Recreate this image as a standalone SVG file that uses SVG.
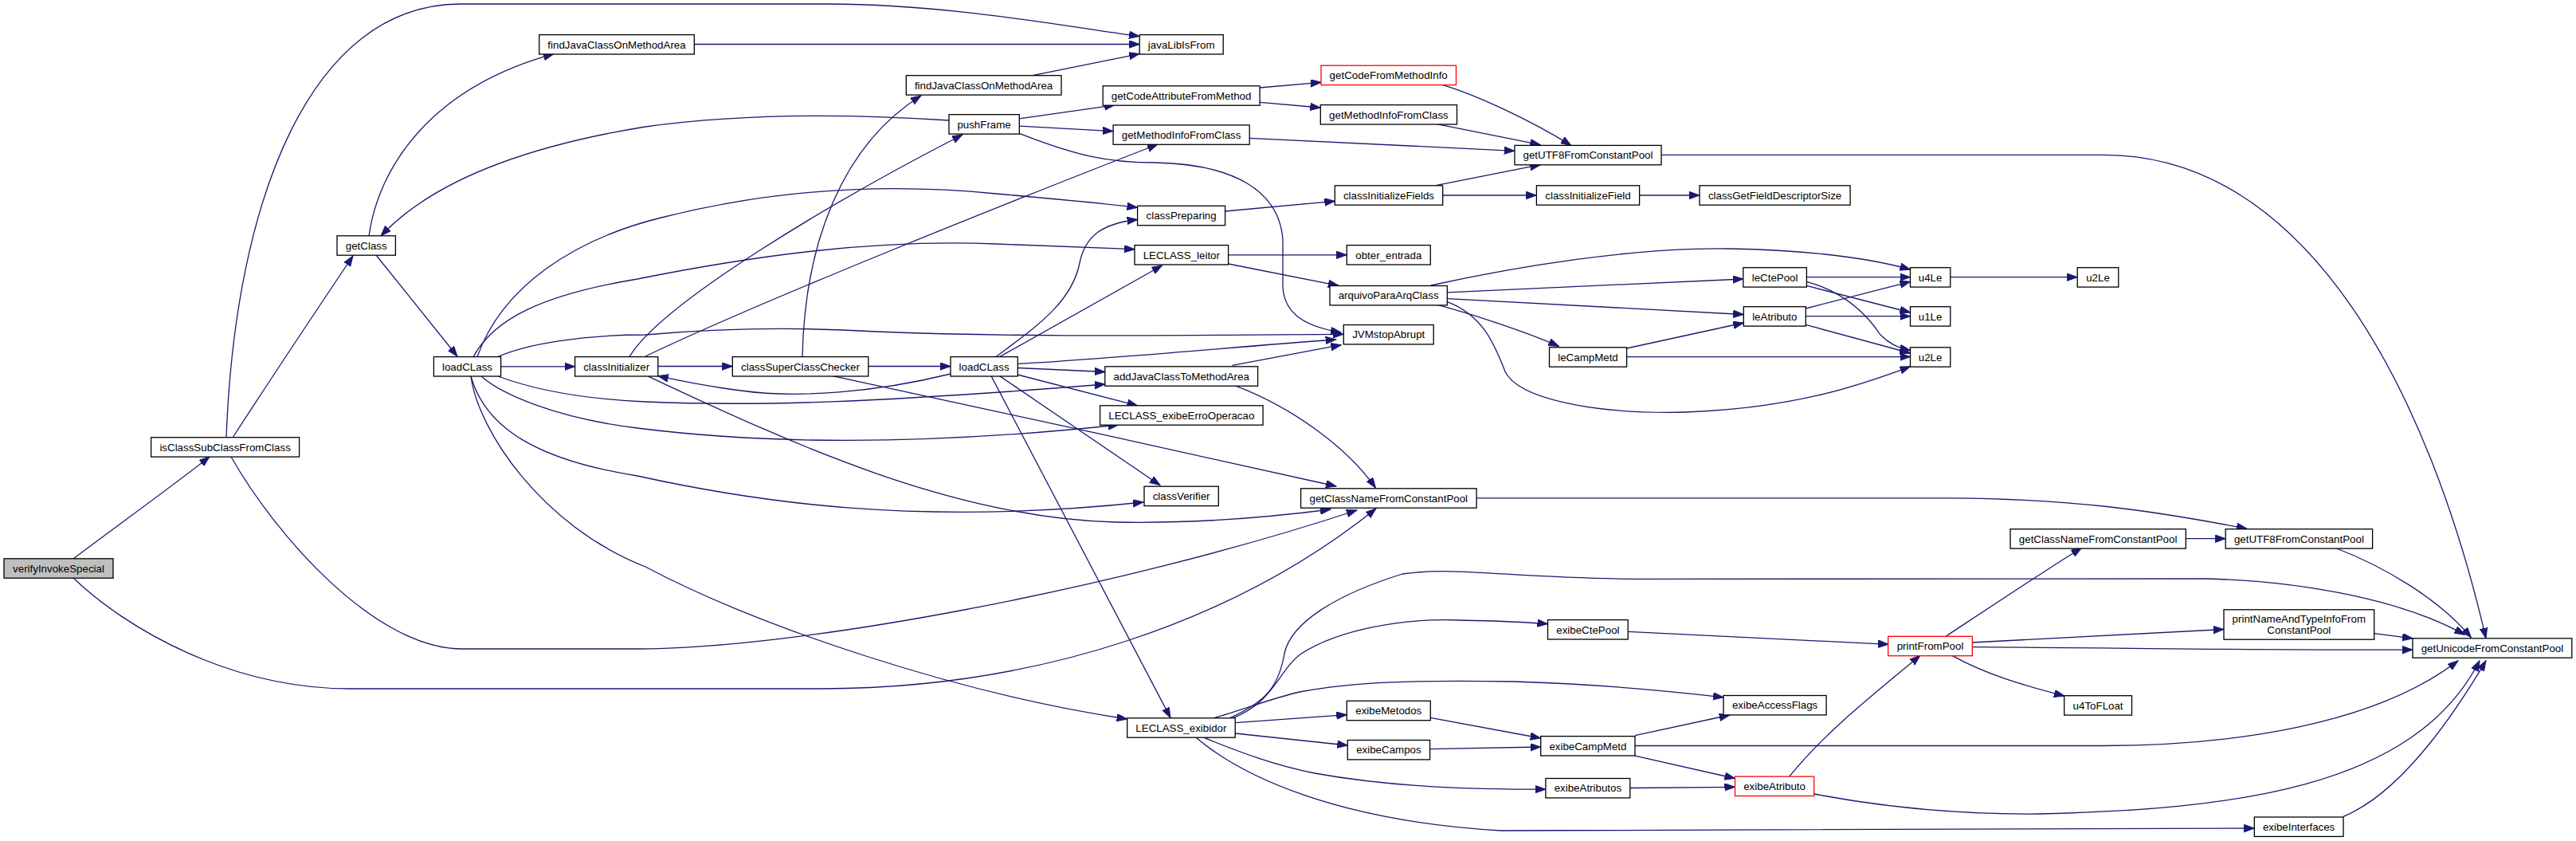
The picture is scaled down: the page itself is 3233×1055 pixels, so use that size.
<svg xmlns="http://www.w3.org/2000/svg" width="3233" height="1055" viewBox="0 0 3233 1055">
<defs>
<style>
.node rect{fill:#ffffff;stroke:#000000;stroke-width:1.3}
.node.root rect{fill:#bfbfbf}
.node.red rect{stroke:#ff0000}
.node text{font-family:"Liberation Sans",Arial,Helvetica,sans-serif;font-size:13.33px;text-anchor:middle;fill:#000000}
.edges path{fill:none;stroke:#191970;stroke-width:1.3;marker-end:url(#arr)}
</style>
<marker id="arr" markerUnits="userSpaceOnUse" markerWidth="14" markerHeight="11" refX="13" refY="4.7" orient="auto">
<path d="M0,0 L13,4.7 L0,9.4 z" fill="#191970" stroke="#191970" stroke-width="1"/>
</marker>
</defs>
<rect x="0" y="0" width="3233" height="1055" fill="#ffffff"/>
<g id="edges" class="edges">
<path d="M92,701 C130,672 220,607 263,573"/>
<path d="M92,725 C160,790 290,864 440,864 L1030,864 C1300,864 1550,780 1727,638"/>
<path d="M292,549 C340,475 400,385 443,321"/>
<path d="M284,549 C295,250 390,5 578,5 L1040,5 C1180,5 1320,30 1430,45.6"/>
<path d="M290,573 C345,670 470,814 580,814 L800,814 C1000,814 1400,740 1703,640"/>
<path d="M463,296 C475,210 540,110 695,67.6"/>
<path d="M472,320 L574,447"/>
<path d="M1191,151 C1100,145 950,140 810,159 C650,185 540,230 478,296"/>
<path d="M628.6,459.8 L721.6,459.8"/>
<path d="M599,447.6 C630,360 720,300 830,273 C960,240 1100,228 1250,243 C1330,250 1390,256 1427.6,260.3"/>
<path d="M594,447.6 C620,400 680,370 800,350 C950,320 1100,300 1250,306 C1330,309 1380,311 1424,312.7"/>
<path d="M625,447.6 C660,432 730,420 810,420 C900,412 1000,410 1100,416 C1300,424 1500,420 1686,419.3"/>
<path d="M625,472 C660,485 720,500 810,504 C950,510 1100,505 1387,482"/>
<path d="M604,472 C630,495 700,525 800,537 C950,556 1150,560 1404,533"/>
<path d="M591,472 C610,540 680,578 800,597 C950,630 1150,660 1435,630"/>
<path d="M591,472 C600,540 680,660 810,711 C950,785 1200,870 1414.7,902"/>
<path d="M825.8,459.5 L919.3,459.5"/>
<path d="M790,447.6 C830,380 1050,250 1208,169"/>
<path d="M810,447 C950,380 1250,260 1453,181"/>
<path d="M812,471.3 C1000,560 1200,650 1400,655 C1500,657 1600,648 1670,639"/>
<path d="M1089.8,459.5 L1193,459.5"/>
<path d="M1007,447.6 C1010,300 1060,180 1156,120"/>
<path d="M1045,471.6 C1200,505 1500,570 1677,610"/>
<path d="M871.3,55.5 L1430.2,55.5"/>
<path d="M1296,94.7 L1430,67.6"/>
<path d="M1279.3,148.8 L1399,131.8"/>
<path d="M1279.3,158.2 L1397,164.6"/>
<path d="M1279.3,167.3 C1350,195 1390,204 1450,204 C1550,206 1605,240 1610,300 L1610,360 C1612,395 1640,410 1683,417"/>
<path d="M1581.3,110 L1658,103.3"/>
<path d="M1581.3,128.3 L1657.3,135"/>
<path d="M1568.3,173.3 L1900.7,189.3"/>
<path d="M1803.3,155.7 L1933.3,181.7"/>
<path d="M1810,106.3 C1850,118 1920,150 1972,182.6"/>
<path d="M1803.3,232.3 L1933.3,206.7"/>
<path d="M1810.7,245 L1928.4,245"/>
<path d="M2057.6,245 L2133,245"/>
<path d="M1537.7,265 L1675.3,252.3"/>
<path d="M1541.5,319.8 L1690.3,319.8"/>
<path d="M1541.7,331 L1680,358.3"/>
<path d="M1546.7,458.3 L1683.3,432.7"/>
<path d="M1549,483.4 C1620,510 1690,560 1726.5,612"/>
<path d="M2085,194.4 L2640,194.4 C2900,194 3050,500 3120,800.8"/>
<path d="M1796,358 C1900,335 2050,310 2170,312 C2280,314 2350,325 2397.5,338"/>
<path d="M1816.4,366.8 L2187.8,350"/>
<path d="M1816.4,374.6 L2188.3,394.5"/>
<path d="M1804,382.4 C1840,392 1910,414 1956.4,434.4"/>
<path d="M1816.4,378.6 C1860,395 1875,430 1889,466 C1905,500 2000,520 2116,517 C2250,512 2330,485 2397.5,459.8"/>
<path d="M2267.4,347.7 L2397.5,347.7"/>
<path d="M2267.4,358.4 L2397.5,392"/>
<path d="M2267.4,353.3 C2310,365 2340,390 2360,420 C2370,430 2380,436 2397.5,439.5"/>
<path d="M2266.3,387 L2397.5,353.3"/>
<path d="M2266.3,396.7 L2397.5,396.7"/>
<path d="M2266.3,407.4 L2397.5,443"/>
<path d="M2041.6,437 L2188.3,405"/>
<path d="M2041.6,447.6 L2397.5,447.6"/>
<path d="M2447.8,347.7 L2607.2,347.7"/>
<path d="M1853.1,624.8 L2450,624.8 C2600,626 2700,640 2820,663.3"/>
<path d="M2743.3,675.7 L2793.2,675.7"/>
<path d="M2931.4,687.5 C2990,710 3060,750 3101.4,799.8"/>
<path d="M1543,900.8 C1590,880 1605,860 1612,820 C1620,780 1680,745 1760,720 C1830,710 1900,726 2065,726.4 L2772,726 C2900,730 3020,755 3093.4,796.4"/>
<path d="M1547,900.8 C1600,880 1605,840 1633,820 C1680,790 1760,775 1832,778 C1880,779 1910,780 1942.5,782.7"/>
<path d="M1523,900.8 C1560,890 1600,875 1631,868 C1700,855 1780,853 1900,855 C2000,858 2080,865 2163,874.8"/>
<path d="M1550.3,906.7 L1690.3,896.7"/>
<path d="M1550.3,920 L1691.3,935"/>
<path d="M1511.7,925.7 C1560,945 1600,960 1650,970 C1750,988 1850,990 1939.9,990.2"/>
<path d="M1501.7,925.7 C1560,975 1680,1030 1884,1042 L2829.3,1039"/>
<path d="M2043.2,792.3 L2370.2,808.3"/>
<path d="M1795.3,900.4 L1933.7,926"/>
<path d="M1794.2,939.6 L1933.7,937"/>
<path d="M2052,922.6 L2170.8,897"/>
<path d="M2052,935.5 L2640,935.5 C2800,935 2980,910 3085,828.8"/>
<path d="M2052,948.2 L2177.5,976.5"/>
<path d="M2045.8,988.5 L2177.5,987.3"/>
<path d="M2245.7,974.1 C2290,920 2340,880 2410,822.3"/>
<path d="M2276.7,996 C2350,1010 2450,1022 2560,1021 C2800,1015 3030,990 3112,828.8"/>
<path d="M2442.5,798 C2500,760 2560,720 2612.5,687.2"/>
<path d="M2475,806 L2791,789.5"/>
<path d="M2475,811.7 C2700,813 2850,816 3028,815.1"/>
<path d="M2450.5,822.6 C2490,845 2540,860 2591,873.1"/>
<path d="M2979.7,794.6 L3028,800.8"/>
<path d="M2941,1024.3 C3000,1000 3060,930 3120,828.8"/>
<path d="M1254.5,447.6 L1458.6,333"/>
<path d="M1250,447.6 C1300,410 1345,380 1355,330 C1362,295 1385,280 1427.6,275.5"/>
<path d="M1277.3,456.4 C1400,450 1550,435 1676.7,426"/>
<path d="M1277.3,461.5 L1386.8,466.5"/>
<path d="M1277,470 L1427.6,508.8"/>
<path d="M1254.5,471.6 L1456,608.7"/>
<path d="M1244,471.6 L1469,900.4"/>
<path d="M1193,469 C1100,492 1000,500 930,490 C890,485 860,479 825.8,471.6"/>
</g>
<g id="n_verify" class="node root"><rect x="5" y="700.8" width="137" height="24.4"/><text x="73.5" y="717.7">verifyInvokeSpecial</text></g>
<g id="n_isSub" class="node"><rect x="189.6" y="548.7" width="186" height="24.4"/><text x="282.6" y="565.6">isClassSubClassFromClass</text></g>
<g id="n_getClass" class="node"><rect x="423" y="295.8" width="73.4" height="24.4"/><text x="459.7" y="312.7">getClass</text></g>
<g id="n_loadCLass1" class="node"><rect x="544.4" y="447.6" width="84.2" height="24.4"/><text x="586.5" y="464.5">loadCLass</text></g>
<g id="n_findJava1" class="node"><rect x="676.7" y="43.6" width="194.6" height="24.4"/><text x="774" y="60.5">findJavaClassOnMethodArea</text></g>
<g id="n_classInit" class="node"><rect x="721.6" y="447.6" width="104.2" height="24.4"/><text x="773.7" y="464.5">classInitializer</text></g>
<g id="n_superCheck" class="node"><rect x="919.3" y="447.6" width="170.5" height="24.4"/><text x="1004.5" y="464.5">classSuperClassChecker</text></g>
<g id="n_findJava2" class="node"><rect x="1137.3" y="94.7" width="194.7" height="24.4"/><text x="1234.6" y="111.6">findJavaClassOnMethodArea</text></g>
<g id="n_pushFrame" class="node"><rect x="1191" y="143.7" width="88.3" height="24.4"/><text x="1235.1" y="160.6">pushFrame</text></g>
<g id="n_loadCLass2" class="node"><rect x="1193" y="447.6" width="84.3" height="24.4"/><text x="1235.1" y="464.5">loadCLass</text></g>
<g id="n_javaLib" class="node"><rect x="1430.2" y="43.6" width="105" height="24.4"/><text x="1482.7" y="60.5">javaLibIsFrom</text></g>
<g id="n_getCodeAttr" class="node"><rect x="1384.2" y="107.8" width="196.9" height="24.4"/><text x="1482.6" y="124.7">getCodeAttributeFromMethod</text></g>
<g id="n_getMethodInfo1" class="node"><rect x="1397.1" y="156.9" width="171.1" height="24.4"/><text x="1482.6" y="173.8">getMethodInfoFromClass</text></g>
<g id="n_classPrep" class="node"><rect x="1427.6" y="258.3" width="110" height="24.4"/><text x="1482.6" y="275.2">classPreparing</text></g>
<g id="n_leitor" class="node"><rect x="1424" y="307.6" width="117.6" height="24.4"/><text x="1482.8" y="324.5">LECLASS_leitor</text></g>
<g id="n_addJava" class="node"><rect x="1386.8" y="459.8" width="191.8" height="24.4"/><text x="1482.7" y="476.7">addJavaClassToMethodArea</text></g>
<g id="n_exibeErro" class="node"><rect x="1380.6" y="508.8" width="204.5" height="24.4"/><text x="1482.8" y="525.7">LECLASS_exibeErroOperacao</text></g>
<g id="n_classVerifier" class="node"><rect x="1436" y="610.2" width="93.3" height="24.4"/><text x="1482.6" y="627.1">classVerifier</text></g>
<g id="n_exibidor" class="node"><rect x="1414.7" y="900.8" width="135.5" height="24.4"/><text x="1482.4" y="917.7">LECLASS_exibidor</text></g>
<g id="n_getCodeFromMI" class="node red"><rect x="1658" y="82.2" width="169.5" height="24.4"/><text x="1742.7" y="99.1">getCodeFromMethodInfo</text></g>
<g id="n_getMethodInfo2" class="node"><rect x="1657.3" y="131.6" width="171.2" height="24.4"/><text x="1742.9" y="148.5">getMethodInfoFromClass</text></g>
<g id="n_classInitFields" class="node"><rect x="1675.3" y="232.8" width="135.4" height="24.4"/><text x="1743" y="249.7">classInitializeFields</text></g>
<g id="n_obter" class="node"><rect x="1690.3" y="307.6" width="105" height="24.4"/><text x="1742.8" y="324.5">obter_entrada</text></g>
<g id="n_arquivo" class="node"><rect x="1669" y="358.5" width="147.3" height="24.4"/><text x="1742.6" y="375.4">arquivoParaArqClass</text></g>
<g id="n_jvmStop" class="node"><rect x="1686.3" y="407.5" width="112.9" height="24.4"/><text x="1742.7" y="424.4">JVMstopAbrupt</text></g>
<g id="n_getClassName1" class="node"><rect x="1632.6" y="612.8" width="220.5" height="24.4"/><text x="1742.8" y="629.7">getClassNameFromConstantPool</text></g>
<g id="n_exibeMetodos" class="node"><rect x="1690.3" y="879.3" width="105" height="24.4"/><text x="1742.8" y="896.2">exibeMetodos</text></g>
<g id="n_exibeCampos" class="node"><rect x="1691.3" y="928.5" width="103.3" height="24.4"/><text x="1742.9" y="945.4">exibeCampos</text></g>
<g id="n_getUTF8_1" class="node"><rect x="1901" y="182.4" width="184" height="24.4"/><text x="1993" y="199.3">getUTF8FromConstantPool</text></g>
<g id="n_classInitField" class="node"><rect x="1928.4" y="232.8" width="129.2" height="24.4"/><text x="1993" y="249.7">classInitializeField</text></g>
<g id="n_leCampMetd" class="node"><rect x="1944.5" y="435.8" width="97.1" height="24.4"/><text x="1993" y="452.7">leCampMetd</text></g>
<g id="n_exibeCtePool" class="node"><rect x="1942.5" y="777.6" width="100.7" height="24.4"/><text x="1992.9" y="794.5">exibeCtePool</text></g>
<g id="n_exibeCampMetd" class="node"><rect x="1933.7" y="923.6" width="118.3" height="24.4"/><text x="1992.9" y="940.5">exibeCampMetd</text></g>
<g id="n_exibeAtributos" class="node"><rect x="1939.9" y="976.5" width="105.9" height="24.4"/><text x="1992.9" y="993.4">exibeAtributos</text></g>
<g id="n_classGetFDS" class="node"><rect x="2133" y="232.8" width="189.1" height="24.4"/><text x="2227.6" y="249.7">classGetFieldDescriptorSize</text></g>
<g id="n_leCtePool" class="node"><rect x="2187.8" y="335.7" width="79.6" height="24.4"/><text x="2227.6" y="352.6">leCtePool</text></g>
<g id="n_leAtributo" class="node"><rect x="2188.3" y="384.7" width="78" height="24.4"/><text x="2227.3" y="401.6">leAtributo</text></g>
<g id="n_exibeAccessFlags" class="node"><rect x="2163" y="872.5" width="129.1" height="24.4"/><text x="2227.6" y="889.4">exibeAccessFlags</text></g>
<g id="n_exibeAtributo" class="node red"><rect x="2177.5" y="974.1" width="99.2" height="24.4"/><text x="2227.1" y="991">exibeAtributo</text></g>
<g id="n_printFromPool" class="node red"><rect x="2369.7" y="798.3" width="105.6" height="24.4"/><text x="2422.5" y="815.2">printFromPool</text></g>
<g id="n_u4Le" class="node"><rect x="2397.5" y="335.7" width="50.3" height="24.4"/><text x="2422.6" y="352.6">u4Le</text></g>
<g id="n_u1Le" class="node"><rect x="2397.5" y="384.7" width="50.3" height="24.4"/><text x="2422.6" y="401.6">u1Le</text></g>
<g id="n_u2Le1" class="node"><rect x="2397.5" y="435.8" width="50.3" height="24.4"/><text x="2422.6" y="452.7">u2Le</text></g>
<g id="n_getClassName2" class="node"><rect x="2523" y="663.7" width="220.3" height="24.4"/><text x="2633.1" y="680.6">getClassNameFromConstantPool</text></g>
<g id="n_u2Le2" class="node"><rect x="2607.2" y="335.7" width="51.6" height="24.4"/><text x="2633" y="352.6">u2Le</text></g>
<g id="n_u4ToFLoat" class="node"><rect x="2590.7" y="872.7" width="84.8" height="24.4"/><text x="2633.1" y="889.6">u4ToFLoat</text></g>
<g id="n_getUTF8_2" class="node"><rect x="2793.2" y="663.7" width="184.4" height="24.4"/><text x="2885.4" y="680.6">getUTF8FromConstantPool</text></g>
<g id="n_printNameAndType" class="node"><rect x="2791" y="764.8" width="188.7" height="37.4"/><text x="2885.3" y="781.3">printNameAndTypeInfoFrom</text><text x="2885.3" y="795.2">ConstantPool</text></g>
<g id="n_exibeInterfaces" class="node"><rect x="2829.3" y="1025" width="111.7" height="24.4"/><text x="2885.1" y="1041.9">exibeInterfaces</text></g>
<g id="n_getUnicode" class="node"><rect x="3028" y="800.8" width="199.8" height="24.4"/><text x="3127.9" y="817.7">getUnicodeFromConstantPool</text></g>
</svg>
